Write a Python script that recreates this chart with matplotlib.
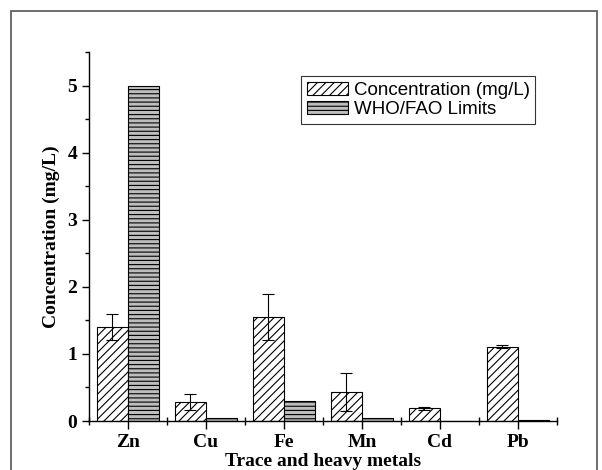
import numpy as np
import matplotlib
matplotlib.use("Agg")
import matplotlib.pyplot as plt
from matplotlib.patches import Rectangle
from matplotlib.ticker import MultipleLocator, FixedLocator

metals = ["Zn", "Cu", "Fe", "Mn", "Cd", "Pb"]
conc = [1.40, 0.28, 1.55, 0.43, 0.19, 1.11]
conc_err = [0.20, 0.12, 0.35, 0.28, 0.02, 0.02]
who_limits = [5.0, 0.05, 0.30, 0.05, 0.003, 0.01]

plt.rcParams["hatch.linewidth"] = 0.8
serif = "Liberation Serif"

fig = plt.figure(figsize=(6.02, 4.70), dpi=100)
# grey frame around the whole picture
fig.patches.append(Rectangle((11 / 602, -0.1), 586 / 602, 1 - 11 / 470 + 0.1,
                             transform=fig.transFigure, fill=False,
                             edgecolor="#555555", linewidth=1.2))
ax = fig.add_axes([89 / 602, 1 - 421 / 470, 468 / 602, 369 / 470])

x = np.arange(len(metals))
w = 0.4
ax.bar(x - w / 2, conc, width=w, color="white", edgecolor="black",
       hatch="////", linewidth=0.8, label="Concentration (mg/L)")
ax.errorbar(x - w / 2, conc, yerr=conc_err, fmt="none", ecolor="black",
            elinewidth=0.8, capsize=4, capthick=0.8)
ax.bar(x + w / 2, who_limits, width=w, color="#bdbdbd", edgecolor="black",
       hatch="----", linewidth=0.8, label="WHO/FAO Limits")

ax.set_xlim(-0.5, 5.5)
ax.set_ylim(0, 5.5)
for s in ["top", "right"]:
    ax.spines[s].set_visible(False)
ax.spines["left"].set_linewidth(1.0)
ax.spines["bottom"].set_linewidth(1.0)

ax.set_xticks(x)
ax.set_xticklabels(metals)
ax.xaxis.set_minor_locator(FixedLocator(np.arange(-0.5, 6.0, 1.0)))
ax.yaxis.set_major_locator(MultipleLocator(1))
ax.yaxis.set_minor_locator(MultipleLocator(0.5))
ax.tick_params(axis="x", which="major", direction="out", length=6, width=1)
ax.tick_params(axis="x", which="minor", direction="inout", length=6, width=1)
ax.tick_params(axis="y", which="major", direction="out", length=5, width=1)
ax.tick_params(axis="y", which="minor", direction="out", length=3, width=1)
for lab in ax.get_xticklabels() + ax.get_yticklabels():
    lab.set_fontfamily(serif)
    lab.set_fontweight("bold")
    lab.set_fontsize(14)

ax.set_ylabel("Concentration (mg/L)", fontfamily=serif, fontweight="bold",
              fontsize=14, labelpad=5)
ax.set_xlabel("Trace and heavy metals", fontfamily=serif, fontweight="bold",
              fontsize=14, labelpad=1)

leg = ax.legend(loc="upper left", bbox_to_anchor=(0.453, 0.934),
                prop={"family": "Liberation Sans", "size": 13.5},
                frameon=True, fancybox=False, edgecolor="black",
                borderpad=0.3, handlelength=2.2, handletextpad=0.3,
                labelspacing=0.1, borderaxespad=0)
leg.get_frame().set_linewidth(0.8)

fig.savefig("out.png", dpi=100)
